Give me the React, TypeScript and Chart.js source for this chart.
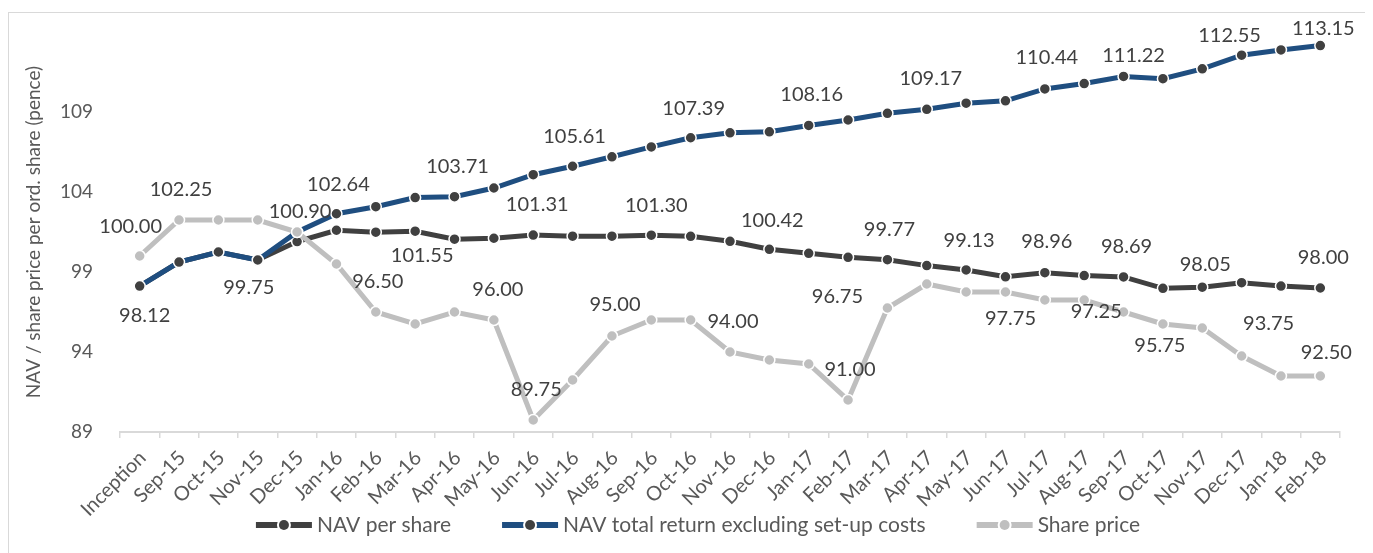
import React, { useEffect, useRef } from 'react';
import { Chart, registerables } from 'chart.js';

Chart.register(...registerables);

// ---------- data ----------
const categories = [
  'Inception', 'Sep-15', 'Oct-15', 'Nov-15', 'Dec-15',
  'Jan-16', 'Feb-16', 'Mar-16', 'Apr-16', 'May-16', 'Jun-16', 'Jul-16', 'Aug-16', 'Sep-16', 'Oct-16', 'Nov-16', 'Dec-16',
  'Jan-17', 'Feb-17', 'Mar-17', 'Apr-17', 'May-17', 'Jun-17', 'Jul-17', 'Aug-17', 'Sep-17', 'Oct-17', 'Nov-17', 'Dec-17',
  'Jan-18', 'Feb-18',
];

const navPerShare = [
  98.12, 99.62, 100.25, 99.75, 100.90,
  101.61, 101.49, 101.55, 101.05, 101.11, 101.31, 101.24, 101.24, 101.30, 101.23, 100.92, 100.42,
  100.17, 99.92, 99.77, 99.40, 99.13, 98.70, 98.96, 98.78, 98.69, 97.98, 98.05, 98.33,
  98.12, 98.00,
];

const navTotalReturn = [
  98.12, 99.62, 100.25, 99.75, 101.50,
  102.64, 103.08, 103.65, 103.71, 104.25, 105.08, 105.61, 106.20, 106.82, 107.39, 107.70, 107.76,
  108.16, 108.50, 108.92, 109.17, 109.55, 109.70, 110.44, 110.78, 111.22, 111.08, 111.70, 112.55,
  112.88, 113.15,
];

const sharePrice = [
  100.00, 102.25, 102.25, 102.25, 101.50,
  99.50, 96.50, 95.75, 96.50, 96.00, 89.75, 92.25, 95.00, 96.00, 96.00, 94.00, 93.50,
  93.25, 91.00, 96.75, 98.25, 97.75, 97.75, 97.25, 97.25, 96.50, 95.75, 95.50, 93.75,
  92.50, 92.50,
];

const yMin = 89;
const yMax = 114;
const yStep = 5;

// which points carry a value label, and where the label sits relative to the point (layout only)
const navLabelPlacement = [
  { i: 0, dx: 5, dy: 29 }, { i: 3, dx: -9, dy: 28 }, { i: 4, dx: 3, dy: -30 }, { i: 7, dx: 7, dy: 24 },
  { i: 10, dx: 4, dy: -30 }, { i: 13, dx: 5, dy: -30 }, { i: 16, dx: 3, dy: -29 }, { i: 19, dx: 2, dy: -30 },
  { i: 21, dx: 3, dy: -29 }, { i: 23, dx: 2, dy: -31 }, { i: 25, dx: 3, dy: -30 }, { i: 27, dx: 3, dy: -23 },
  { i: 30, dx: 3, dy: -30 },
];
const trLabelPlacement = [
  { i: 5, dx: 2, dy: -29 }, { i: 8, dx: 3, dy: -30 }, { i: 11, dx: 2, dy: -30 }, { i: 14, dx: 3, dy: -29 },
  { i: 17, dx: 3, dy: -31 }, { i: 20, dx: 4, dy: -31 }, { i: 23, dx: 2, dy: -31 }, { i: 25, dx: 10, dy: -21 },
  { i: 28, dx: -12, dy: -20 }, { i: 30, dx: 3, dy: -17 },
];
const spLabelPlacement = [
  { i: 0, dx: -9, dy: -29 }, { i: 1, dx: 2, dy: -30 }, { i: 6, dx: 2, dy: -30 }, { i: 9, dx: 4, dy: -30 },
  { i: 10, dx: 3, dy: -30 }, { i: 12, dx: 3, dy: -31 }, { i: 15, dx: 3, dy: -30 }, { i: 18, dx: 2, dy: -30 },
  { i: 19, dx: -50, dy: -11 }, { i: 22, dx: 5, dy: 27 }, { i: 24, dx: 12, dy: 12 }, { i: 26, dx: -3, dy: 22 },
  { i: 28, dx: 27, dy: -32 }, { i: 30, dx: 6, dy: -23 },
];

// ---------- style ----------
const DARK = '#404040';
const BLUE = '#1F4E80';
const GRAY = '#BFBFBF';
const TEXT = '#595959';
const AXIS = '#D9D9D9';
const FONT = 'Lato, "Noto Sans", sans-serif';

const placements = [navLabelPlacement, trLabelPlacement, spLabelPlacement];

const borderPlugin = {
  id: 'outerBorder',
  beforeDraw(chart: any) {
    const { ctx, width, height } = chart;
    ctx.save();
    ctx.strokeStyle = AXIS;
    ctx.lineWidth = 1;
    ctx.strokeRect(0.5, 4.5, width + 10, height + 10);
    ctx.restore();
  },
};

const labelPlugin = {
  id: 'valueLabels',
  afterDatasetsDraw(chart: any) {
    const { ctx } = chart;
    ctx.save();
    ctx.font = `20px ${FONT}`;
    ctx.fillStyle = DARK;
    ctx.textAlign = 'center';
    ctx.textBaseline = 'middle';
    chart.data.datasets.forEach((ds: any, di: number) => {
      const meta = chart.getDatasetMeta(di);
      placements[di].forEach((p) => {
        const pt = meta.data[p.i];
        if (!pt) return;
        ctx.fillText(Number(ds.data[p.i]).toFixed(2), pt.x + p.dx, pt.y + p.dy);
      });
    });
    ctx.restore();
  },
};

const legendPlugin = {
  id: 'lineLegend',
  afterDraw(chart: any) {
    const { ctx } = chart;
    ctx.save();
    ctx.font = `21px ${FONT}`;
    ctx.textBaseline = 'middle';
    ctx.textAlign = 'left';
    const lineW = 56;
    const gapText = 5;
    const gapItem = 51;
    const items = chart.data.datasets.map((ds: any) => ({
      text: ds.label,
      color: ds.borderColor,
      dot: ds.pointBackgroundColor,
      w: ctx.measureText(ds.label).width,
    }));
    const total = items.reduce((s: number, it: any) => s + lineW + gapText + it.w, 0) + gapItem * (items.length - 1);
    let x = 690 - total / 2;
    const y = 517;
    items.forEach((it: any) => {
      ctx.strokeStyle = it.color;
      ctx.lineWidth = 6;
      ctx.lineCap = 'butt';
      ctx.beginPath();
      ctx.moveTo(x, y);
      ctx.lineTo(x + lineW, y);
      ctx.stroke();
      ctx.fillStyle = '#FFFFFF';
      ctx.beginPath();
      ctx.arc(x + lineW / 2, y, 7, 0, Math.PI * 2);
      ctx.fill();
      ctx.fillStyle = it.dot;
      ctx.beginPath();
      ctx.arc(x + lineW / 2, y, 5, 0, Math.PI * 2);
      ctx.fill();
      ctx.fillStyle = TEXT;
      ctx.fillText(it.text, x + lineW + gapText, y);
      x += lineW + gapText + it.w + gapItem;
    });
    ctx.restore();
  },
};

export default function App() {
  const ref = useRef<HTMLCanvasElement>(null);

  useEffect(() => {
    if (!ref.current) return;
    const common = {
      borderWidth: 5,
      pointRadius: 5.5,
      pointBorderColor: '#FFFFFF',
      pointBorderWidth: 1.5,
      tension: 0,
      fill: false,
    };
    const chart = new Chart(ref.current, {
      type: 'line',
      data: {
        labels: categories,
        datasets: [
          { ...common, label: 'NAV per share', data: navPerShare, borderColor: DARK, pointBackgroundColor: DARK, order: 3 },
          { ...common, label: 'NAV total return excluding set-up costs', data: navTotalReturn, borderColor: BLUE, pointBackgroundColor: DARK, order: 2 },
          { ...common, label: 'Share price', data: sharePrice, borderColor: GRAY, pointBackgroundColor: GRAY, order: 1 },
        ],
      },
      options: {
        animation: false,
        responsive: true,
        maintainAspectRatio: false,
        layout: { padding: { top: 24, right: 25, bottom: 36, left: 0 } },
        plugins: {
          legend: { display: false },
          tooltip: { enabled: false },
        },
        scales: {
          x: {
            offset: true,
            grid: {
              display: true,
              drawOnChartArea: false,
              drawTicks: true,
              tickLength: 6,
              offset: true,
              color: AXIS,
              lineWidth: 1.5,
            },
            border: { display: true, color: AXIS, width: 2 },
            ticks: {
              minRotation: 45,
              maxRotation: 45,
              autoSkip: false,
              font: { family: FONT, size: 20 },
              color: TEXT,
              padding: 8,
              labelOffset: 3,
            },
            afterFit: (s: any) => { s.height = 85; },
          },
          y: {
            min: yMin,
            max: yMax,
            grid: { display: false, drawTicks: true, tickLength: 27 },
            border: { display: false },
            ticks: {
              stepSize: yStep,
              font: { family: FONT, size: 19 },
              color: TEXT,
              padding: 0,
              callback: (v: any) => (Number(v) >= yMax ? '' : String(v)),
            },
            title: {
              display: true,
              text: 'NAV / share price per ord. share (pence)',
              font: { family: FONT, size: 19 },
              color: TEXT,
              padding: { top: 14, bottom: 0 },
            },
            afterFit: (s: any) => { s.width = 112; },
          },
        },
      },
      plugins: [borderPlugin, labelPlugin, legendPlugin],
    } as any);
    return () => chart.destroy();
  }, []);

  return (
    <div style={{ position: 'relative', width: 1357, height: 545 }}>
      <canvas ref={ref} />
    </div>
  );
}
